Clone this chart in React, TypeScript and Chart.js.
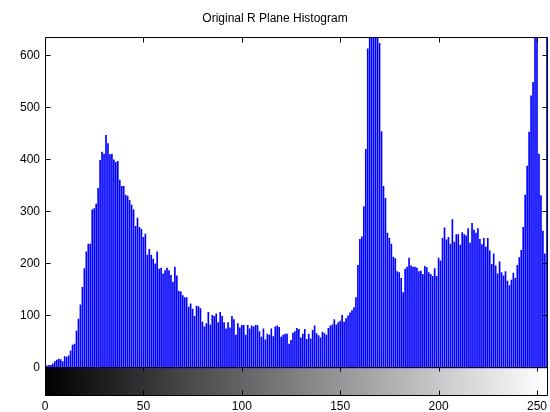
import { useEffect, useRef } from "react";
import { Chart, registerables } from "chart.js";

Chart.register(...registerables);

const TITLE = "Original R Plane Histogram";
const X_TICKS = [0, 50, 100, 150, 200, 250];
const Y_TICKS = [0, 100, 200, 300, 400, 500, 600];
const X_MIN = 0;
const X_MAX = 255;
const Y_MIN = -54;
const Y_MAX = 635;

// pixel counts for intensity levels 0..255
const COUNTS = [
  26, 4, 5, 5, 8, 12, 15, 17, 16, 12, 22, 21, 23, 33, 44, 46,
  71, 94, 121, 155, 191, 223, 238, 238, 304, 306, 315, 345, 399, 415, 411, 447,
  431, 410, 411, 400, 395, 397, 361, 349, 349, 332, 330, 322, 313, 304, 272, 288,
  270, 267, 251, 257, 217, 228, 217, 209, 200, 223, 190, 192, 181, 187, 192, 187,
  178, 165, 194, 177, 147, 146, 139, 135, 135, 117, 123, 113, 99, 119, 118, 114,
  88, 79, 85, 107, 83, 101, 99, 104, 87, 107, 99, 87, 75, 87, 77, 99,
  93, 63, 85, 77, 82, 82, 63, 82, 75, 81, 79, 82, 82, 70, 59, 75,
  54, 65, 63, 75, 60, 79, 81, 78, 59, 63, 65, 65, 46, 53, 67, 70,
  76, 74, 58, 65, 74, 55, 65, 56, 72, 81, 66, 62, 58, 69, 66, 63,
  76, 81, 83, 93, 83, 87, 90, 101, 88, 95, 100, 106, 110, 116, 135, 197,
  247, 252, 310, 420, 613, 680, 720, 700, 690, 660, 624, 454, 349, 326, 259, 249,
  238, 213, 210, 185, 183, 172, 145, 190, 194, 211, 196, 194, 194, 192, 185, 186,
  180, 195, 193, 183, 180, 176, 191, 176, 211, 206, 249, 269, 246, 251, 238, 285,
  242, 256, 256, 236, 260, 256, 254, 268, 240, 278, 265, 259, 268, 247, 237, 249,
  232, 249, 225, 199, 219, 196, 181, 204, 183, 177, 185, 167, 158, 169, 182, 172,
  197, 212, 226, 270, 332, 388, 453, 523, 549, 700, 640, 411, 331, 263, 219, 700,
];

const FONT = "'Liberation Sans', Arial, Helvetica, sans-serif";

const boxPlugin = {
  id: "matlabBox",
  afterDatasetsDraw(chart: any) {
    const { ctx, chartArea, scales } = chart;
    const { left, right, top, bottom } = chartArea;
    const xs = scales.x;
    const ys = scales.y;
    const L = Math.round(left) + 0.5;
    const R = Math.round(right) + 0.5;
    const T = Math.round(top) - 0.5;
    const B = Math.round(bottom) - 0.5;
    const Z = Math.round(ys.getPixelForValue(0)) - 0.5;
    const len = 5;
    ctx.save();
    ctx.strokeStyle = "#000";
    ctx.lineWidth = 1;
    ctx.beginPath();
    // outer box
    ctx.moveTo(L, T); ctx.lineTo(R, T);
    ctx.moveTo(L, T); ctx.lineTo(L, B);
    ctx.moveTo(R, T); ctx.lineTo(R, B);
    ctx.moveTo(L, B); ctx.lineTo(R, B);
    // separator between histogram and colour strip
    ctx.moveTo(L, Z); ctx.lineTo(R, Z);
    // y ticks (inward, both sides)
    for (const v of Y_TICKS) {
      const py = Math.round(ys.getPixelForValue(v)) - 0.5;
      ctx.moveTo(L, py); ctx.lineTo(L + len, py);
      ctx.moveTo(R, py); ctx.lineTo(R - len, py);
    }
    // x ticks (inward at top, on colour strip)
    for (const v of X_TICKS) {
      const px = Math.round(xs.getPixelForValue(v)) + 0.5;
      ctx.moveTo(px, T); ctx.lineTo(px, T + len);
      ctx.moveTo(px, Z); ctx.lineTo(px, Z + len - 1);
      ctx.moveTo(px, B); ctx.lineTo(px, B - len);
    }
    ctx.stroke();
    ctx.restore();
  },
};

export default function App() {
  const ref = useRef<HTMLCanvasElement | null>(null);

  useEffect(() => {
    if (!ref.current) return;
    const grays = COUNTS.map((_, i) => `rgb(${i},${i},${i})`);
    const chart = new Chart(ref.current, {
      type: "bar",
      data: {
        datasets: [
          {
            label: "colour strip",
            data: COUNTS.map((_, i) => ({ x: i, y: [Y_MIN, 0] })) as any,
            backgroundColor: grays,
            borderWidth: 0,
            barThickness: 3,
            grouped: false,
            order: 2,
          } as any,
          {
            label: "R plane",
            data: COUNTS.map((v, i) => ({ x: i, y: v })) as any,
            backgroundColor: "#0000ff",
            borderWidth: 0,
            barThickness: 1,
            grouped: false,
            order: 1,
          } as any,
        ],
      },
      options: {
        animation: false,
        responsive: false,
        devicePixelRatio: 1,
        layout: { padding: { left: 0, right: 0, top: 0, bottom: 0 } },
        plugins: {
          legend: { display: false },
          tooltip: { enabled: false },
          title: {
            display: true,
            text: TITLE,
            color: "#000",
            font: { family: FONT, size: 12, weight: "normal", lineHeight: 1.2 },
            padding: { top: 11, bottom: 12.1 },
          },
        },
        scales: {
          x: {
            type: "linear",
            min: X_MIN,
            max: X_MAX,
            offset: false,
            grid: { display: false, drawTicks: false },
            border: { display: false },
            afterBuildTicks: (s: any) => {
              s.ticks = X_TICKS.map((v) => ({ value: v }));
            },
            afterFit: (s: any) => {
              s.height = 16;
            },
            ticks: {
              autoSkip: false,
              maxRotation: 0,
              padding: 3,
              color: "#000",
              font: { family: FONT, size: 12 },
            },
          },
          y: {
            type: "linear",
            min: Y_MIN,
            max: Y_MAX,
            grid: { display: false, drawTicks: false },
            border: { display: false },
            afterBuildTicks: (s: any) => {
              s.ticks = Y_TICKS.map((v) => ({ value: v }));
            },
            afterFit: (s: any) => {
              s.width = 45;
            },
            ticks: {
              autoSkip: false,
              padding: 5,
              color: "#000",
              font: { family: FONT, size: 12 },
            },
          },
        },
      } as any,
      plugins: [boxPlugin],
    });
    return () => chart.destroy();
  }, []);

  return (
    <div style={{ position: "fixed", left: 0, top: 0, width: 550, height: 412, background: "#fff" }}>
      <canvas ref={ref} width={550} height={412} style={{ display: "block" }} />
    </div>
  );
}
